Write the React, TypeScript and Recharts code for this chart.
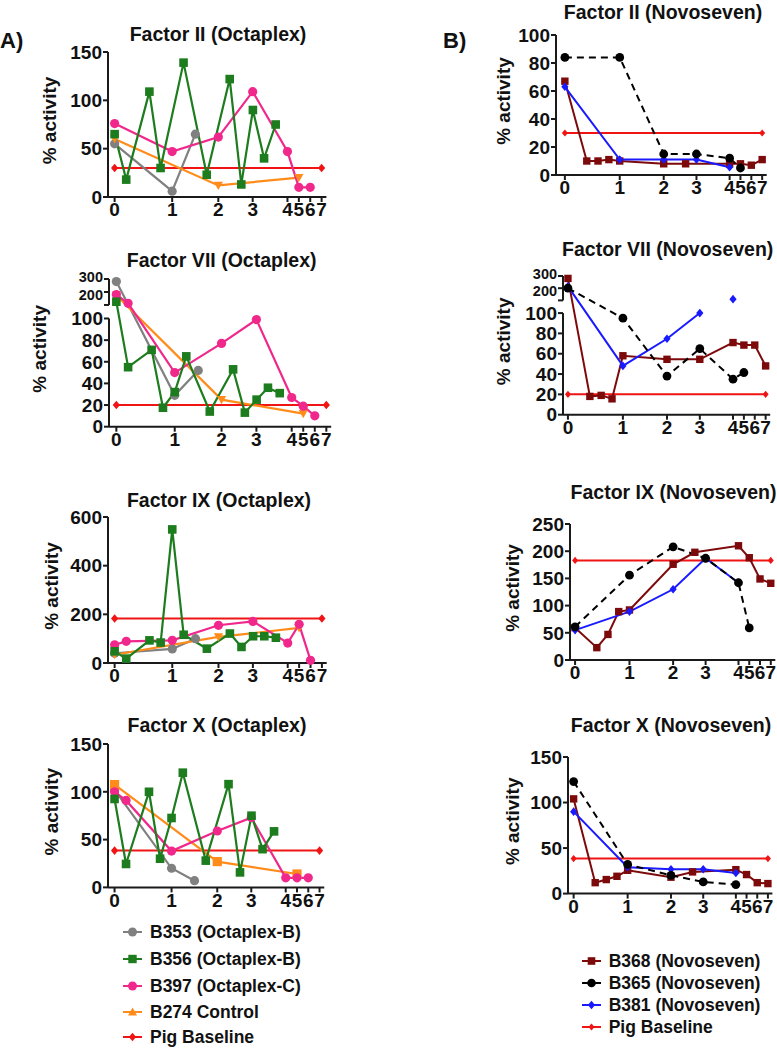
import React from 'react';
import { LineChart, Line, XAxis, YAxis, ReferenceLine } from 'recharts';

const FONT = '"Liberation Sans", Arial, Helvetica, sans-serif';

// ---------- axis ticks ----------
const X_TICK_POS = [0, 27.8, 50.1, 66.7, 83.5, 89.0, 94.5, 100];
const X_TICK_LABELS = ['0', '1', '2', '3', '4', '5', '6', '7'];

// broken y axis (Factor VII): lower 0-100, upper 100-300 compressed
const BREAK_GAP = 12.5;
const BREAK_SCALE = 0.12;
const LOWER_TICKS = [0, 20, 40, 60, 80, 100];
const UPPER_TICKS = [100, 200, 300];
const UPPER_LABELS = ['', '200', '300'];

// ---------- sample positions (x, in axis units) ----------
const GRAY_T = [0, 27.8, 39.0];
const GREEN_T = [0, 5.6, 16.8, 22.2, 27.8, 33.3, 44.5, 55.6, 61.2, 66.8, 72.2, 77.8];
const PINK_T = [0, 5.6, 27.8, 50.1, 66.7, 83.5, 89.0, 94.5];
const ORANGE_T = [0, 50.1, 89.0];
const BASE_T = [0, 100];
const BROWN_T = [0, 11.1, 16.8, 22.3, 27.8, 50.1, 61.2, 83.5, 89.0, 94.5, 100];
const BROWN_T_VII = [0, 11.1, 16.8, 22.3, 27.8, 50.1, 66.7, 83.5, 89.0, 94.5, 100];
const BLACK_T = [0, 27.8, 50.1, 66.7, 83.5, 89.0];
const BLUE_T = [0, 27.8, 50.1, 66.7, 83.5];
const BLUE_T_VII = [0, 27.8, 50.1, 66.7, 75, 83.5];

// ---------- values: Octaplex ----------
const F2_OCT_B353 = [55, 6, 65];
const F2_OCT_B356 = [65, 18, 109, 30, null, 139, 23, 122, 13, 90, 40, 75];
const F2_OCT_B397 = [76, null, 47, 62, 109, 47, 10, 10];
const F2_OCT_B274 = [60, 12, 20];
const F2_BASE = [30, 30];

const F7_OCT_B353 = [280, 29, 52];
const F7_OCT_B356 = [125, 55, 71, 17.5, 32, 65, 14, 53, 13, 25, 36, 31];
const F7_OCT_B397 = [180, 113, 50, 77, 99, 27, 19, 10];
const F7_OCT_B274 = [175, 25, 12];
const F7_BASE = [20, 20];

const F9_OCT_B353 = [40, 58, 100];
const F9_OCT_B356 = [48, 18, 93, 84, 549, 116, 59, 121, 66, 110, 110, 104];
const F9_OCT_B397 = [75, 89, 93, 155, 171, 82, 159, 11];
const F9_OCT_B274 = [34, 107, 144];
const F9_BASE = [183, 183];

const F10_OCT_B353 = [102, 20, 7];
const F10_OCT_B356 = [92.5, 24.5, 100, 30, 72.6, 120, 28, 108, 15.7, 75, 40, 58.6];
const F10_OCT_B397 = [100, 91, 38, 59, 73, 10, 10, 10];
const F10_OCT_B274 = [107.5, 27, 14];
const F10_BASE = [38.5, 38.5];

// ---------- values: Novoseven ----------
const F2_NOV_B368 = [67, 10, 10, 11, 10, 8, 8, 8, 8, 7, 11];
const F2_NOV_B365 = [84, 84, 15, 15, 12, 5];
const F2_NOV_B381 = [63, 11, 11, 11, 5.5];

const F7_NOV_B368 = [280, 18, 19, 15.6, 58, 54.5, 54.5, 71, 68.5, 68.5, 48];
const F7_NOV_B365 = [200, 95, 38, 65, 35, 41.5];
const F7_NOV_B381 = [215, 48, 74.7, 100, null, 110];

const F9_NOV_B368 = [59.4, 22.7, 47, 89, 92, 176, 198, 210, 188, 149, 141];
const F9_NOV_B365 = [61, 156, 208, 187, 142, 59];
const F9_NOV_B381 = [55, 89, 130, 187, 142];

const F10_NOV_B368 = [104, 12, 15.4, 19, 25.6, 18, 23.8, 26.3, 20.9, 12, 11];
const F10_NOV_B365 = [123, 32, 20, 12.8, 9.9];
const F10_NOV_B381 = [90, 29, 26.7, 26.7, 22.7];

// ---------- colours ----------
const C_GRAY = '#808080';
const C_GREEN = '#1d7c1d';
const C_PINK = '#f0288c';
const C_ORANGE = '#ff8c1a';
const C_RED = '#f01414';
const C_BROWN = '#7d0a0a';
const C_BLACK = '#000000';
const C_BLUE = '#1a1aff';

const zip = (t: number[], v: (number | null)[]) => v.map((y, i) => ({ x: t[i], y }));
const upper = (v: number) => 100 + BREAK_GAP + (v - 100) * BREAK_SCALE;
const brk = (v: number) => (v <= 100 ? v : upper(v));
const BREAK_TICKS = [...LOWER_TICKS, ...UPPER_TICKS.map(upper)];
const BREAK_LABELS = [...LOWER_TICKS.map(String), ...UPPER_LABELS];

type Shape = 'circle' | 'square' | 'diamond' | 'triDown' | 'triUp';

function Marker({ cx, cy, shape, color, size }: { cx: number; cy: number; shape: Shape; color: string; size: number }) {
  if (cx == null || cy == null || isNaN(cx) || isNaN(cy)) return <g />;
  if (shape === 'circle') return <circle cx={cx} cy={cy} r={size} fill={color} />;
  if (shape === 'square') return <rect x={cx - size} y={cy - size} width={2 * size} height={2 * size} fill={color} />;
  if (shape === 'diamond')
    return <polygon points={`${cx},${cy - size * 1.2} ${cx + size},${cy} ${cx},${cy + size * 1.2} ${cx - size},${cy}`} fill={color} />;
  if (shape === 'triDown')
    return <polygon points={`${cx - size},${cy - size * 0.8} ${cx + size},${cy - size * 0.8} ${cx},${cy + size}`} fill={color} />;
  return <polygon points={`${cx - size},${cy + size * 0.8} ${cx + size},${cy + size * 0.8} ${cx},${cy - size}`} fill={color} />;
}

type Series = {
  id: string;
  t: number[];
  v: (number | null)[];
  color: string;
  shape: Shape;
  size: number;
  dash?: string;
  width?: number;
  connect?: boolean;
};

const red = (v: number[], size: number): Series => ({ id: 'base', t: BASE_T, v, color: C_RED, shape: 'diamond', size, width: 2 });

const octa = (g: number[], gr: (number | null)[], p: (number | null)[], o: number[], b: number[], oShape: Shape): Series[] => [
  red(b, 3.6),
  { id: 'b353', t: GRAY_T, v: g, color: C_GRAY, shape: 'circle', size: 4.6, width: 2.2 },
  { id: 'b274', t: ORANGE_T, v: o, color: C_ORANGE, shape: oShape, size: 4.6, width: 2.2 },
  { id: 'b397', t: PINK_T, v: p, color: C_PINK, shape: 'circle', size: 4.6, width: 2.2, connect: true },
  { id: 'b356', t: GREEN_T, v: gr, color: C_GREEN, shape: 'square', size: 4.3, width: 2.2, connect: true },
];

const novo = (br: number[], bk: number[], bl: (number | null)[], b: number[], brT: number[], blT: number[]): Series[] => [
  red(b, 3),
  { id: 'b368', t: brT, v: br, color: C_BROWN, shape: 'square', size: 3.7, width: 2 },
  { id: 'b381', t: blT, v: bl, color: C_BLUE, shape: 'diamond', size: 3.6, width: 2 },
  { id: 'b365', t: BLACK_T, v: bk, color: C_BLACK, shape: 'circle', size: 4.4, width: 2, dash: '7 5' },
];

type PanelCfg = {
  title: string;
  tx: number;
  ty: number;
  x0: number;
  x7: number;
  yTop: number;
  yBottom: number;
  L: number;
  yMax?: number;
  yTicks?: number[];
  broken?: boolean;
  labelOff: number;
  series: Series[];
};

const PANELS: PanelCfg[] = [
  {
    title: 'Factor II (Octaplex)', tx: 218, ty: 34, x0: 115, x7: 322, yTop: 51.7, yBottom: 196.7, L: 3.2,
    yMax: 150, yTicks: [0, 50, 100, 150], labelOff: 58.4,
    series: octa(F2_OCT_B353, F2_OCT_B356, F2_OCT_B397, F2_OCT_B274, F2_BASE, 'triDown'),
  },
  {
    title: 'Factor VII (Octaplex)', tx: 221.7, ty: 260, x0: 116.7, x7: 326.7, yTop: 279, yBottom: 426.7, L: 3.5,
    broken: true, labelOff: 69.4,
    series: octa(F7_OCT_B353, F7_OCT_B356, F7_OCT_B397, F7_OCT_B274, F7_BASE, 'triDown'),
  },
  {
    title: 'Factor IX (Octaplex)', tx: 219, ty: 500, x0: 115, x7: 322.3, yTop: 516.7, yBottom: 662.7, L: 3.2,
    yMax: 600, yTicks: [0, 200, 400, 600], labelOff: 56.7,
    series: octa(F9_OCT_B353, F9_OCT_B356, F9_OCT_B397, F9_OCT_B274, F9_BASE, 'triDown'),
  },
  {
    title: 'Factor X (Octaplex)', tx: 217, ty: 725, x0: 115, x7: 320, yTop: 744.3, yBottom: 887.7, L: 3.2,
    yMax: 150, yTicks: [0, 50, 100, 150], labelOff: 56.7,
    series: octa(F10_OCT_B353, F10_OCT_B356, F10_OCT_B397, F10_OCT_B274, F10_BASE, 'square'),
  },
  {
    title: 'Factor II (Novoseven)', tx: 663, ty: 12, x0: 565, x7: 762.3, yTop: 35, yBottom: 175, L: 4.5,
    yMax: 100, yTicks: [0, 20, 40, 60, 80, 100], labelOff: 52.6,
    series: novo(F2_NOV_B368, F2_NOV_B365, F2_NOV_B381, F2_BASE, BROWN_T, BLUE_T),
  },
  {
    title: 'Factor VII (Novoseven)', tx: 667.7, ty: 249, x0: 568.3, x7: 766, yTop: 275.6, yBottom: 414.3, L: 2.5,
    broken: true, labelOff: 60,
    series: novo(F7_NOV_B368, F7_NOV_B365, F7_NOV_B381, F7_BASE, BROWN_T_VII, BLUE_T_VII),
  },
  {
    title: 'Factor IX (Novoseven)', tx: 673.5, ty: 492, x0: 575, x7: 770.7, yTop: 524, yBottom: 660, L: 2.6,
    yMax: 250, yTicks: [0, 50, 100, 150, 200, 250], labelOff: 57,
    series: novo(F9_NOV_B368, F9_NOV_B365, F9_NOV_B381, F9_BASE, BROWN_T, BLUE_T),
  },
  {
    title: 'Factor X (Novoseven)', tx: 671, ty: 725, x0: 574, x7: 768.3, yTop: 756.7, yBottom: 893.3, L: 2.9,
    yMax: 150, yTicks: [0, 50, 100, 150], labelOff: 55,
    series: novo(F10_NOV_B368, F10_NOV_B365, F10_NOV_B381, F10_BASE, BROWN_T, BLUE_T),
  },
];

const AXIS_COLOR = '#1a1a1a';
const TICK_STYLE = { fill: '#111', fontSize: 19, fontWeight: 700, fontFamily: FONT };

// tick renderer for the broken axis: the two compressed upper labels are
// slightly smaller and spread apart so they do not collide
function BrokenTick(p: any) {
  const v = p.payload ? p.payload.value : 0;
  const i = BREAK_TICKS.findIndex((t) => Math.abs(t - v) < 1e-6);
  const label = i >= 0 ? BREAK_LABELS[i] : '';
  const isUpper = i >= LOWER_TICKS.length;
  const shift = label === '300' ? -2.5 : label === '200' ? 2.5 : 0;
  return (
    <text
      x={p.x}
      y={p.y + shift}
      dy="0.355em"
      textAnchor="end"
      fill="#111"
      fontSize={isUpper ? 14.5 : 19}
      fontWeight={700}
      fontFamily={FONT}
    >
      {label}
    </text>
  );
}

function Panel({ cfg }: { cfg: PanelCfg }) {
  const { x0, x7, yTop, yBottom, L, broken } = cfg;
  const R = 2.3;
  const ppu = (x7 - x0) / 100;
  const W = 100, MT = 14, XH = 30, MB = 2, MR = 4;
  const plotLeft = x0 - L * ppu;
  const plotRight = x7 + R * ppu;
  const left = plotLeft - W;
  const top = yTop - MT;
  const width = plotRight - left + MR;
  const height = yBottom - yTop + MT + XH + MB;
  const yTicks = broken ? BREAK_TICKS : (cfg.yTicks as number[]);
  const yMax = broken ? BREAK_TICKS[BREAK_TICKS.length - 1] : (cfg.yMax as number);
  const xFmt = (v: number) => {
    const i = X_TICK_POS.findIndex((t) => Math.abs(t - v) < 1e-6);
    return i >= 0 ? X_TICK_LABELS[i] : '';
  };
  const yLabel = {
    content: (p: any) => {
      const vb = p.viewBox || { x: 0, y: MT, width: W, height: yBottom - yTop };
      const cx = vb.x + vb.width - cfg.labelOff;
      const cy = vb.y + vb.height / 2 - 4;
      return (
        <text
          x={cx}
          y={cy}
          transform={`rotate(-90 ${cx} ${cy})`}
          textAnchor="middle"
          dominantBaseline="central"
          fontSize={19}
          fontWeight={700}
          fontFamily={FONT}
          fill="#111"
        >
          % activity
        </text>
      );
    },
  };
  return (
    <>
      <div
        style={{
          position: 'absolute',
          left: cfg.tx - 160,
          width: 320,
          top: cfg.ty - 10,
          textAlign: 'center',
          fontSize: 19.5,
          lineHeight: '20px',
          fontWeight: 700,
          fontFamily: FONT,
          color: '#111',
          whiteSpace: 'nowrap',
        }}
      >
        {cfg.title}
      </div>
      <div style={{ position: 'absolute', left, top }}>
        <LineChart width={width} height={height} margin={{ top: MT, right: MR, bottom: MB, left: 0 }}>
          <XAxis
            type="number"
            dataKey="x"
            domain={[-L, 100 + R]}
            ticks={X_TICK_POS}
            interval={0}
            tickFormatter={xFmt}
            height={XH}
            tickSize={5}
            tickMargin={1}
            tick={TICK_STYLE}
            axisLine={{ stroke: AXIS_COLOR, strokeWidth: 2 }}
            tickLine={{ stroke: AXIS_COLOR, strokeWidth: 2 }}
          />
          <YAxis
            type="number"
            domain={[0, yMax]}
            ticks={yTicks}
            interval={0}
            width={W}
            tickSize={5}
            tickMargin={1}
            tick={broken ? <BrokenTick /> : TICK_STYLE}
            axisLine={broken ? false : { stroke: AXIS_COLOR, strokeWidth: 2 }}
            tickLine={{ stroke: AXIS_COLOR, strokeWidth: 2 }}
            label={yLabel}
          />
          {broken && (
            <ReferenceLine
              segment={[{ x: -L, y: 0 }, { x: -L, y: 100 }]}
              stroke={AXIS_COLOR}
              strokeWidth={2}
              ifOverflow="visible"
            />
          )}
          {broken && (
            <ReferenceLine
              segment={[{ x: -L, y: upper(100) }, { x: -L, y: upper(300) }]}
              stroke={AXIS_COLOR}
              strokeWidth={2}
              ifOverflow="visible"
            />
          )}
          {cfg.series.map((s) => (
            <Line
              key={s.id}
              data={zip(s.t, s.v)}
              dataKey={broken ? (d: any) => (d.y == null ? null : brk(d.y)) : 'y'}
              stroke={s.color}
              strokeWidth={s.width ?? 2}
              strokeDasharray={s.dash}
              connectNulls={!!s.connect}
              isAnimationActive={false}
              activeDot={false}
              dot={(p: any) => (
                <Marker key={`${s.id}-${p.index}`} cx={p.cx} cy={p.cy} shape={s.shape} color={s.color} size={s.size} />
              )}
            />
          ))}
        </LineChart>
      </div>
    </>
  );
}

// ---------- legends ----------
const LEGEND_A: { name: string; color: string; shape: Shape; size: number }[] = [
  { name: 'B353 (Octaplex-B)', color: C_GRAY, shape: 'circle', size: 4.5 },
  { name: 'B356 (Octaplex-B)', color: C_GREEN, shape: 'square', size: 4.2 },
  { name: 'B397 (Octaplex-C)', color: C_PINK, shape: 'circle', size: 4.5 },
  { name: 'B274 Control', color: C_ORANGE, shape: 'triUp', size: 4.5 },
  { name: 'Pig Baseline', color: C_RED, shape: 'diamond', size: 3.6 },
];
const LEGEND_B: { name: string; color: string; shape: Shape; size: number }[] = [
  { name: 'B368 (Novoseven)', color: C_BROWN, shape: 'square', size: 3.8 },
  { name: 'B365 (Novoseven)', color: C_BLACK, shape: 'circle', size: 4.3 },
  { name: 'B381 (Novoseven)', color: C_BLUE, shape: 'diamond', size: 3.6 },
  { name: 'Pig Baseline', color: C_RED, shape: 'diamond', size: 3 },
];
const LEGEND_A_POS = { x: 123, ys: [931.7, 959.3, 986, 1011.7, 1036.7] };
const LEGEND_B_POS = { x: 581.7, ys: [961, 982.7, 1005, 1026.7] };

function Legend({ items, pos }: { items: typeof LEGEND_A; pos: { x: number; ys: number[] } }) {
  return (
    <>
      {items.map((it, i) => (
        <div
          key={it.name}
          style={{
            position: 'absolute',
            left: pos.x,
            top: pos.ys[i] - 11,
            height: 22,
            display: 'flex',
            alignItems: 'center',
            whiteSpace: 'nowrap',
          }}
        >
          <svg width={20} height={22} style={{ display: 'block' }}>
            <line x1={0} y1={11} x2={19} y2={11} stroke={it.color} strokeWidth={2} />
            <Marker cx={9.5} cy={11} shape={it.shape} color={it.color} size={it.size} />
          </svg>
          <span
            style={{
              marginLeft: 7,
              fontSize: 17.5,
              lineHeight: '22px',
              fontWeight: 700,
              fontFamily: FONT,
              color: '#111',
            }}
          >
            {it.name}
          </span>
        </div>
      ))}
    </>
  );
}

export default function App() {
  return (
    <div
      style={{
        position: 'absolute',
        left: 0,
        top: 0,
        width: 777,
        height: 1048,
        overflow: 'hidden',
        background: '#fff',
        fontFamily: FONT,
      }}
    >
      <div style={{ position: 'absolute', left: 0, top: 30, fontSize: 22, lineHeight: '22px', fontWeight: 700, fontFamily: FONT, color: '#111' }}>
        A)
      </div>
      <div style={{ position: 'absolute', left: 443, top: 30, fontSize: 22, lineHeight: '22px', fontWeight: 700, fontFamily: FONT, color: '#111' }}>
        B)
      </div>
      {PANELS.map((p) => (
        <Panel key={p.title} cfg={p} />
      ))}
      <Legend items={LEGEND_A} pos={LEGEND_A_POS} />
      <Legend items={LEGEND_B} pos={LEGEND_B_POS} />
    </div>
  );
}
